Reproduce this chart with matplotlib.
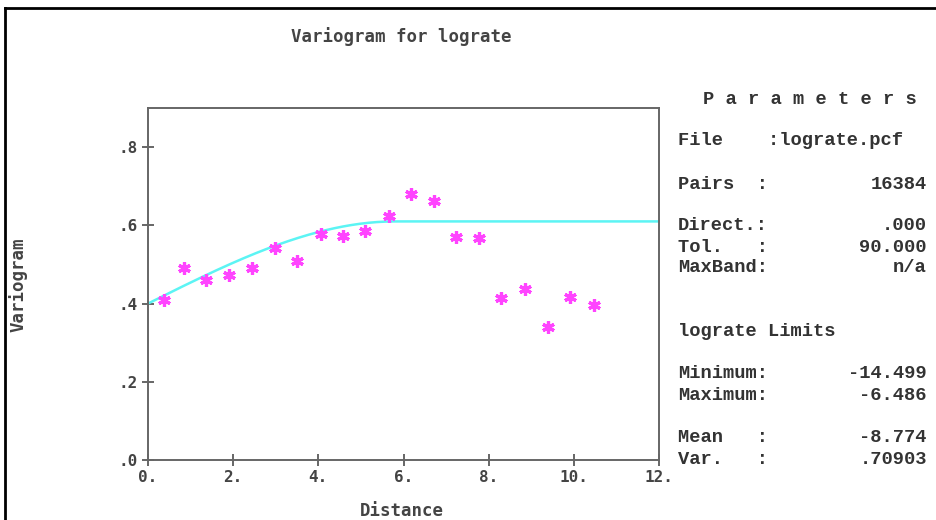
import numpy as np
import matplotlib
matplotlib.use("Agg")
import matplotlib.pyplot as plt
from matplotlib.lines import Line2D

dist = [0.38, 0.85, 1.36, 1.90, 2.44, 2.98, 3.50, 4.06, 4.58, 5.09,
        5.66, 6.17, 6.71, 7.23, 7.77, 8.29, 8.85, 9.39, 9.91, 10.47]
gamma = [0.410, 0.490, 0.459, 0.472, 0.490, 0.541, 0.510, 0.579, 0.574, 0.585,
         0.623, 0.679, 0.661, 0.569, 0.567, 0.415, 0.438, 0.341, 0.418, 0.397]

# spherical model parameters
nugget = 0.40
sill = 0.61
model_range = 5.8

xticks = [0, 2, 4, 6, 8, 10, 12]
xtick_labels = ["0.", "2.", "4.", "6.", "8.", "10.", "12."]
yticks = [0, 0.2, 0.4, 0.6, 0.8]
ytick_labels = [".0", ".2", ".4", ".6", ".8"]

param_rows = [("File    :lograte.pcf", ""),
              ("Pairs  :", "16384"),
              ("Direct.:", ".000"),
              ("Tol.   :", "90.000"),
              ("MaxBand:", "n/a"),
              ("lograte Limits", ""),
              ("Minimum:", "-14.499"),
              ("Maximum:", "-6.486"),
              ("Mean   :", "-8.774"),
              ("Var.   :", ".70903")]
param_y = [141, 184, 226, 247, 268, 332, 374, 395, 438, 460]

W, H = 937, 520
fig = plt.figure(figsize=(W / 100, H / 100), dpi=100)
fig.patch.set_facecolor("white")

def px(x, y):
    return x / W, 1 - y / H

ax = fig.add_axes([148 / W, 60 / H, 511 / W, 352 / H])

h = np.linspace(0, 12, 300)
r = np.clip(h / model_range, 0, 1)
model = nugget + (sill - nugget) * (1.5 * r - 0.5 * r ** 3)
ax.plot(h, model, color="#5cf4f4", lw=1.8, zorder=2)
ax.plot(dist, gamma, linestyle="none", marker=(6, 2, 0), markersize=9,
        markeredgewidth=2.3, color="#ff44ff", zorder=3)

ax.set_xlim(0, 12)
ax.set_ylim(0, 0.9)
ax.set_xticks(xticks)
ax.set_xticklabels(xtick_labels)
ax.set_yticks(yticks)
ax.set_yticklabels(ytick_labels)

mono = "DejaVu Sans Mono"
for sp in ax.spines.values():
    sp.set_color("#666666")
    sp.set_linewidth(1.4)
ax.tick_params(direction="inout", length=8, width=1.4, colors="#666666",
               labelcolor="#444444", labelsize=11.5)
for lab in ax.get_xticklabels() + ax.get_yticklabels():
    lab.set_fontfamily(mono)
    lab.set_fontweight("bold")
ax.tick_params(axis="x", pad=3)

lab_size = 12.5
fig.text(*px(401, 37), "Variogram for lograte", ha="center", va="center",
         family=mono, fontweight="bold", fontsize=lab_size, color="#444444")
fig.text(*px(402, 511), "Distance", ha="center", va="center",
         family=mono, fontweight="bold", fontsize=lab_size, color="#444444")
fig.text(*px(18, 285), "Variogram", ha="center", va="center", rotation=90,
         family=mono, fontweight="bold", fontsize=lab_size, color="#444444")

# parameter panel
fig.text(*px(703, 99), "P a r a m e t e r s", ha="left", va="center",
         family="Liberation Mono", fontweight="bold", fontsize=13.5, color="#333333")
for (lab, val), yy in zip(param_rows, param_y):
    fig.text(*px(678, yy), lab, ha="left", va="center",
             family="Liberation Mono", fontweight="bold", fontsize=13.5, color="#333333")
    if val:
        fig.text(*px(927, yy), val, ha="right", va="center",
                 family="Liberation Mono", fontweight="bold", fontsize=13.5, color="#333333")

# outer frame
fig.add_artist(Line2D([5 / W, 1], [1 - 8 / H, 1 - 8 / H], color="black", lw=2,
                      transform=fig.transFigure))
fig.add_artist(Line2D([5 / W, 5 / W], [0, 1 - 8 / H], color="black", lw=2,
                      transform=fig.transFigure))

fig.savefig("out.png", dpi=100)
